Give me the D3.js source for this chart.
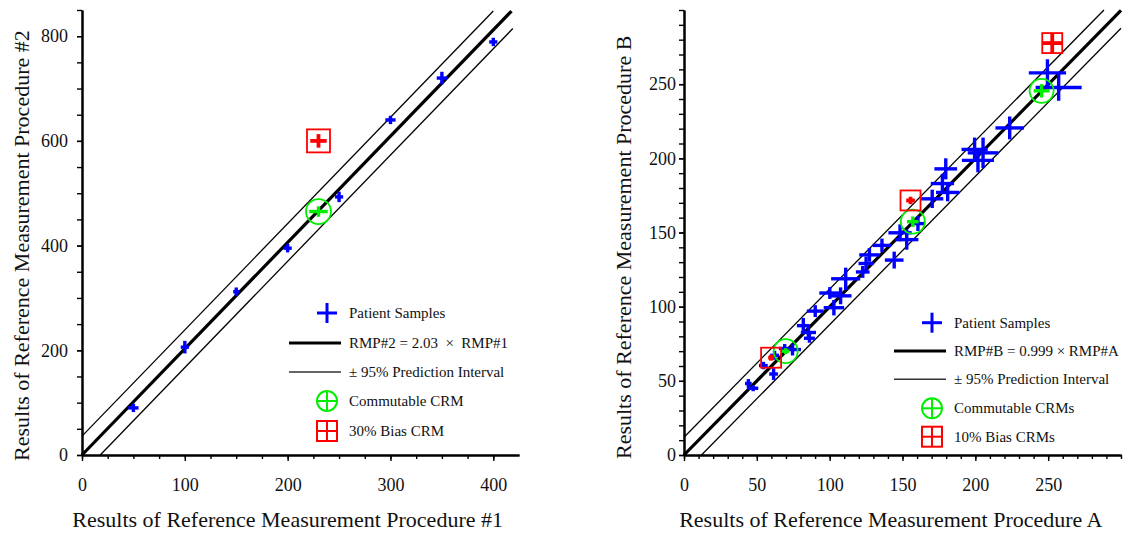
<!DOCTYPE html>
<html>
<head>
<meta charset="utf-8">
<script src="https://cdn.jsdelivr.net/npm/d3@7"></script>
<style>
  body { margin: 0; background: #fff; }
  svg { display: block; }
  svg text { font-family: "Liberation Serif", "Times New Roman", serif !important; }
</style>
</head>
<body>
<div id="canvas"></div>
<script>
// ---- left panel: RMP #1 vs RMP #2 ----
const leftX    = [50, 100, 150, 200, 250, 300, 350, 400];
const leftY    = [90, 206, 312, 395, 493, 640, 720, 789];
const leftXErr = [5, 4, 3, 4, 4, 5, 5, 4];
const leftYErr = [8, 12, 8, 8, 10, 8, 12, 8];
const leftSlope = 2.03;
const leftPI = 36;
// [x, y, xErr, yErr]
const leftCommutable = [[230, 465, 9, 10]];
const leftBias = [[230, 600, 8, 13]];
const leftLegend = ["Patient Samples", "RMP#2 = 2.03  \u00d7  RMP#1", "\u00b1 95% Prediction Interval", "Commutable CRM", "30% Bias CRM"];

// ---- right panel: RMP A vs RMP B ----
const rightX    = [249.5, 257.2, 223.6, 199.5, 205.3, 201.8, 179.7, 177.4, 181, 170.4, 160.6, 148.3, 152.9, 144.3, 135.9, 127.3, 125, 122.7, 111, 107.5, 100.1, 102.9, 90.1, 81.9, 85.4, 86.1, 74.5, 69.1, 62.2, 54.5, 61.5, 44.2, 47.5];
const rightY    = [257.6, 247.8, 220.5, 206, 203.7, 198.6, 192.9, 183, 177, 172.7, 156, 149.8, 145.2, 131.4, 141.3, 134.9, 129.1, 123.4, 118.8, 107.3, 109.2, 99.3, 97, 87.2, 82.6, 78.7, 71.1, 71.8, 67.2, 60.3, 54.6, 48.2, 45];
const rightXErr = [12.8, 15.8, 9.8, 9, 10.5, 11, 7.8, 8, 8, 7.6, 5, 8, 8, 6.4, 6.4, 7, 5.2, 4.7, 10, 7.5, 7.2, 7, 5.8, 4.4, 5.2, 3.8, 5.8, 4, 3, 3, 3, 2.3, 3.5];
const rightYErr = [9.2, 9, 7.7, 8, 10.3, 8, 7.1, 6.5, 6, 6.2, 5, 5.7, 6.8, 5.7, 4.6, 4.6, 4.6, 4, 7.5, 5.7, 4, 5.2, 4, 5.2, 4, 3, 4, 3, 3, 2.5, 4, 3, 2];
const rightSlope = 0.999;
const rightPI = 12;
const rightCommutable = [[69.8, 70, 2.5, 2], [157.1, 157.3, 4, 3.5], [245.5, 245.5, 5.5, 4.5]];
const rightBias = [[59.8, 65.6, 2, 2], [155.5, 171.6, 3, 2.5], [252.8, 277.7, 6.8, 6.6]];
const rightLegend = ["Patient Samples", "RMP#B = 0.999 \u00d7 RMP#A", "\u00b1 95% Prediction Interval", "Commutable CRMs", "10% Bias CRMs"];

const svg = d3.select("#canvas").append("svg")
  .attr("width", 1123)
  .attr("height", 534);

function drawPanel(cfg) {
  const x = d3.scaleLinear().domain(cfg.xDomain).range(cfg.xRange);
  const y = d3.scaleLinear().domain(cfg.yDomain).range([455, 10]);
  const g = svg.append("g");

  // minor ticks
  g.append("g").attr("transform", "translate(0,455)")
    .call(d3.axisBottom(x).tickValues(cfg.xMinor).tickSize(4).tickSizeOuter(0).tickFormat(""));
  g.append("g").attr("transform", `translate(${cfg.xRange[0]},0)`)
    .call(d3.axisLeft(y).tickValues(cfg.yMinor).tickSize(5).tickSizeOuter(0).tickFormat(""));
  // major ticks + labels
  g.append("g").attr("transform", "translate(0,455)")
    .call(d3.axisBottom(x).tickValues(cfg.xMajor).tickSize(6).tickSizeOuter(0).tickPadding(17));
  g.append("g").attr("transform", `translate(${cfg.xRange[0]},0)`)
    .call(d3.axisLeft(y).tickValues(cfg.yMajor).tickSize(5).tickSizeOuter(0).tickPadding(cfg.yPad));
  g.selectAll(".domain").attr("stroke-width", 2);
  g.selectAll(".tick line").attr("stroke-width", 1.4);
  g.selectAll(".tick text").attr("font-size", 18).attr("fill", "#111");

  // fit line and prediction interval, clipped to the top/right
  const lines = [
    { b: cfg.pi, w: 1.3 },
    { b: -cfg.pi, w: 1.3 },
    { b: 0, w: 3.2 }
  ];
  lines.forEach(({ b, w }) => {
    const x0 = Math.max(0, -b / cfg.slope);
    const x1 = Math.min(cfg.lineMaxX, (cfg.lineMaxY - b) / cfg.slope);
    g.append("line")
      .attr("x1", x(x0)).attr("y1", y(cfg.slope * x0 + b))
      .attr("x2", x(x1)).attr("y2", y(cfg.slope * x1 + b))
      .attr("stroke", "#000").attr("stroke-width", w);
  });

  // error-bar crosses
  const cross = (sel, data, color, w) => {
    sel.selectAll(null).data(data).join("line")
      .attr("x1", (d) => x(d[0] - d[2])).attr("x2", (d) => x(d[0] + d[2]))
      .attr("y1", (d) => y(d[1])).attr("y2", (d) => y(d[1]))
      .attr("stroke", color).attr("stroke-width", w);
    sel.selectAll(null).data(data).join("line")
      .attr("x1", (d) => x(d[0])).attr("x2", (d) => x(d[0]))
      .attr("y1", (d) => y(d[1] - d[3])).attr("y2", (d) => y(d[1] + d[3]))
      .attr("stroke", color).attr("stroke-width", w);
  };
  const pts = cfg.px.map((v, i) => [v, cfg.py[i], cfg.pxe[i], cfg.pye[i]]);
  cross(g.append("g"), pts, "#0000ff", 3.4);

  // commutable CRMs
  const gc = g.append("g");
  gc.selectAll("circle").data(cfg.comm).join("circle")
    .attr("cx", (d) => x(d[0])).attr("cy", (d) => y(d[1]))
    .attr("r", cfg.circR).attr("fill", "none").attr("stroke", "#00ee00").attr("stroke-width", 1.8);
  cross(gc, cfg.comm, "#00ee00", 3.4);

  // biased CRMs
  const gb = g.append("g");
  gb.selectAll("rect").data(cfg.bias).join("rect")
    .attr("x", (d) => x(d[0]) - cfg.sq / 2).attr("y", (d) => y(d[1]) - cfg.sq / 2)
    .attr("width", cfg.sq).attr("height", cfg.sq)
    .attr("fill", "none").attr("stroke", "#ff0000").attr("stroke-width", 1.8);
  cross(gb, cfg.bias, "#ff0000", 3.8);

  // legend
  const lg = g.append("g");
  const [mx, lx0, lx1, tx] = cfg.legendX;
  const plus = (cx, cy, color, w) => {
    lg.append("line").attr("x1", cx - 10).attr("x2", cx + 10).attr("y1", cy).attr("y2", cy).attr("stroke", color).attr("stroke-width", w);
    lg.append("line").attr("x1", cx).attr("x2", cx).attr("y1", cy - 10).attr("y2", cy + 10).attr("stroke", color).attr("stroke-width", w);
  };
  cfg.legend.forEach((label, i) => {
    const ry = cfg.legendY[i];
    if (i === 0) {
      plus(mx, ry, "#0000ff", 3);
    } else if (i === 1 || i === 2) {
      lg.append("line").attr("x1", lx0).attr("x2", lx1).attr("y1", ry).attr("y2", ry)
        .attr("stroke", i === 1 ? "#000" : "#333").attr("stroke-width", i === 1 ? 3.2 : 1.5);
    } else if (i === 3) {
      lg.append("circle").attr("cx", mx).attr("cy", ry).attr("r", 10).attr("fill", "none").attr("stroke", "#00ee00").attr("stroke-width", 2);
      plus(mx, ry, "#00ee00", 2);
    } else {
      lg.append("rect").attr("x", mx - 10).attr("y", ry - 10).attr("width", 20).attr("height", 20).attr("fill", "none").attr("stroke", "#ff0000").attr("stroke-width", 2);
      plus(mx, ry, "#ff0000", 2);
    }
    lg.append("text").attr("x", tx).attr("y", ry + 5)
      .attr("font-size", 15).attr("fill", "#111")
      .style("white-space", "pre")
      .text(label);
  });

  // axis titles
  g.append("text")
    .attr("x", x(cfg.xTitleAt)).attr("y", 527)
    .attr("text-anchor", "middle").attr("font-size", 22).attr("fill", "#111")
    .text(cfg.xTitle);
  g.append("text")
    .attr("transform", `translate(${cfg.yTitleX},${y(cfg.yTitleAt)}) rotate(-90)`)
    .attr("text-anchor", "middle").attr("font-size", 22).attr("fill", "#111")
    .text(cfg.yTitle);
}

drawPanel({
  xDomain: [0, 425], xRange: [82, 519], yDomain: [0, 850],
  xMinor: d3.range(0, 425, 25), xMajor: [0, 100, 200, 300, 400],
  yMinor: d3.range(0, 851, 50), yMajor: [0, 200, 400, 600, 800], yPad: 9,
  slope: leftSlope, pi: leftPI, lineMaxX: 419, lineMaxY: 848,
  px: leftX, py: leftY, pxe: leftXErr, pye: leftYErr,
  comm: leftCommutable, bias: leftBias, circR: 12.5, sq: 23,
  legend: leftLegend, legendY: [313, 343, 372, 401, 431], legendX: [327, 289, 341, 349],
  xTitle: "Results of Reference Measurement Procedure #1", xTitleAt: 200,
  yTitle: "Results of Reference Measurement Procedure #2", yTitleAt: 400, yTitleX: 29
});

drawPanel({
  xDomain: [0, 300], xRange: [684, 1121], yDomain: [0, 300],
  xMinor: d3.range(0, 301, 10), xMajor: [0, 50, 100, 150, 200, 250],
  yMinor: d3.range(0, 301, 10), yMajor: [0, 50, 100, 150, 200, 250], yPad: 3,
  slope: rightSlope, pi: rightPI, lineMaxX: 300, lineMaxY: 300,
  px: rightX, py: rightY, pxe: rightXErr, pye: rightYErr,
  comm: rightCommutable, bias: rightBias, circR: 12, sq: 20,
  legend: rightLegend, legendY: [322.7, 351, 379.3, 408.3, 436.7], legendX: [932, 894, 946, 954],
  xTitle: "Results of Reference Measurement Procedure A", xTitleAt: 142,
  yTitle: "Results of Reference Measurement Procedure B", yTitleAt: 140, yTitleX: 631
});
</script>
</body>
</html>
